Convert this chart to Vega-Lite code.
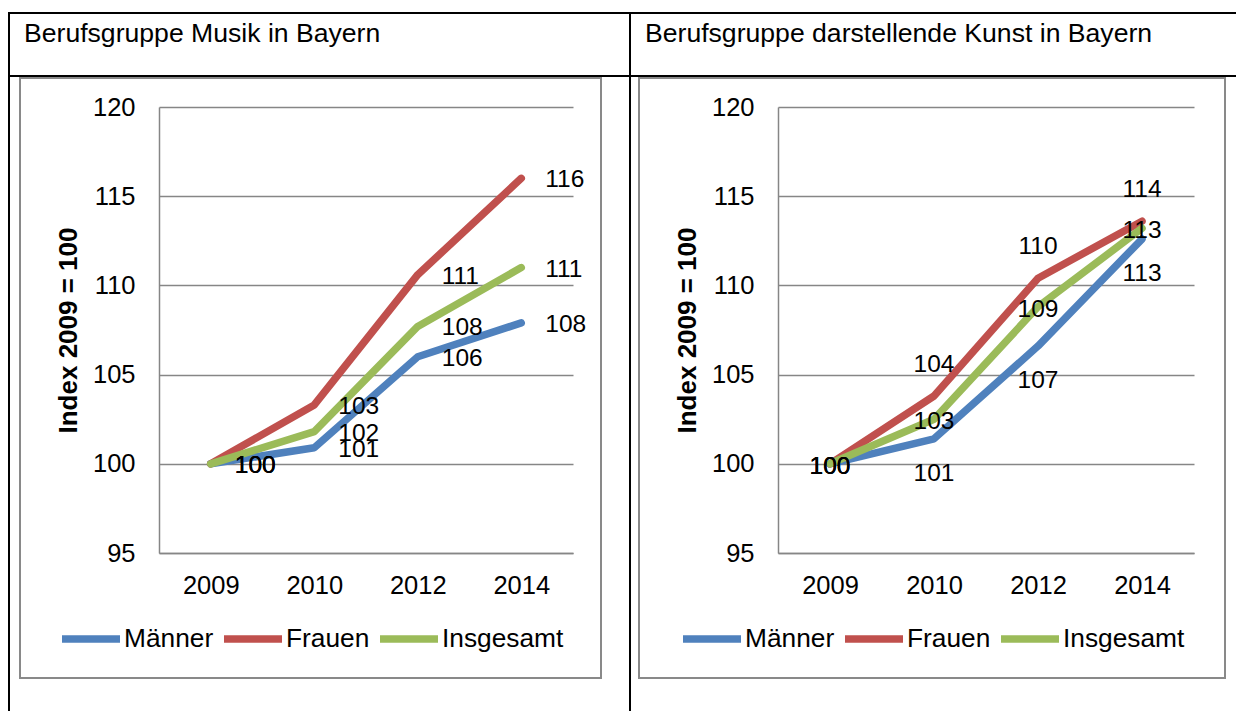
{
  "$schema": "https://vega.github.io/schema/vega-lite/v6.json",
  "padding": {"left": 8, "top": 12, "right": 0, "bottom": 0},
  "background": "white",
  "config": {
    "font": "Liberation Sans",
    "view": {"stroke": null},
    "concat": {"spacing": 0},
    "axis": {"labelColor": "black", "titleColor": "black", "labelFont": "Liberation Sans", "titleFont": "Liberation Sans"},
    "legend": {"labelFont": "Liberation Sans", "labelColor": "black"},
    "title": {"font": "Liberation Sans", "color": "black", "fontWeight": "normal"}
  },
  "datasets": {
    "musik": [
      {"year": "2009", "series": "Männer", "value": 100},
      {"year": "2010", "series": "Männer", "value": 100.9},
      {"year": "2012", "series": "Männer", "value": 106.0},
      {"year": "2014", "series": "Männer", "value": 107.9},
      {"year": "2009", "series": "Frauen", "value": 100},
      {"year": "2010", "series": "Frauen", "value": 103.3},
      {"year": "2012", "series": "Frauen", "value": 110.6},
      {"year": "2014", "series": "Frauen", "value": 116.0},
      {"year": "2009", "series": "Insgesamt", "value": 100},
      {"year": "2010", "series": "Insgesamt", "value": 101.8},
      {"year": "2012", "series": "Insgesamt", "value": 107.7},
      {"year": "2014", "series": "Insgesamt", "value": 111.0}
    ],
    "kunst": [
      {"year": "2009", "series": "Männer", "value": 100},
      {"year": "2010", "series": "Männer", "value": 101.4},
      {"year": "2012", "series": "Männer", "value": 106.6},
      {"year": "2014", "series": "Männer", "value": 112.6},
      {"year": "2009", "series": "Frauen", "value": 100},
      {"year": "2010", "series": "Frauen", "value": 103.8},
      {"year": "2012", "series": "Frauen", "value": 110.4},
      {"year": "2014", "series": "Frauen", "value": 113.6},
      {"year": "2009", "series": "Insgesamt", "value": 100},
      {"year": "2010", "series": "Insgesamt", "value": 102.5},
      {"year": "2012", "series": "Insgesamt", "value": 108.8},
      {"year": "2014", "series": "Insgesamt", "value": 113.2}
    ]
  },
  "spacing": 0,
  "resolve": {"scale": {"color": "independent"}, "legend": {"color": "independent"}},
  "vconcat": [
    {"width": 1240, "height": 2, "data": {"values": []}, "mark": "rule", "encoding": {}, "view": {"fill": "black", "stroke": null}},
    {
      "spacing": 0,
      "hconcat": [
        {"width": 2, "height": 61, "data": {"values": []}, "mark": "rule", "encoding": {}, "view": {"fill": "black", "stroke": null}},
        {"width": 619, "height": 61, "data": {"values": []}, "mark": "rule", "encoding": {},
         "title": {"text": "Berufsgruppe Musik in Bayern", "anchor": "start", "frame": "group", "orient": "top", "baseline": "top", "offset": -34, "dx": 14, "fontSize": 26.6}},
        {"width": 2, "height": 61, "data": {"values": []}, "mark": "rule", "encoding": {}, "view": {"fill": "black", "stroke": null}},
        {"width": 610, "height": 61, "data": {"values": []}, "mark": "rule", "encoding": {},
         "title": {"text": "Berufsgruppe darstellende Kunst in Bayern", "anchor": "start", "frame": "group", "orient": "top", "baseline": "top", "offset": -34, "dx": 14, "fontSize": 26.6}}
      ]
    },
    {"width": 1240, "height": 2, "data": {"values": []}, "mark": "rule", "encoding": {}, "view": {"fill": "black", "stroke": null}},
    {
      "spacing": 0,
      "resolve": {"scale": {"color": "independent"}, "legend": {"color": "independent"}},
      "hconcat": [
        {"width": 2, "height": 640, "data": {"values": []}, "mark": "rule", "encoding": {}, "view": {"fill": "black", "stroke": null}},
        {
          "spacing": 0,
          "resolve": {"scale": {"color": "independent"}, "legend": {"color": "independent"}},
          "hconcat": [
            {"width": 9, "height": 1, "data": {"values": []}, "mark": "rule", "encoding": {}},
            {
              "spacing": 0,
              "resolve": {"scale": {"color": "independent"}, "legend": {"color": "independent"}},
              "vconcat": [
                {"width": 583, "height": 2, "data": {"values": []}, "mark": "rule", "encoding": {}, "view": {"fill": "#898989", "stroke": null}},
                {
                  "spacing": 0,
                  "resolve": {"scale": {"color": "independent"}, "legend": {"color": "independent"}},
                  "hconcat": [
                    {"width": 2, "height": 598, "data": {"values": []}, "mark": "rule", "encoding": {}, "view": {"fill": "#898989", "stroke": null}},
                    {
                      "columns": 3, "bounds": "flush", "align": "each", "spacing": 0,
                      "resolve": {"scale": {"color": "independent"}, "legend": {"color": "independent"}},
                      "concat": [
                        {"width": 138, "height": 28, "data": {"values": []}, "mark": "rule", "encoding": {}},
                        {"width": 1, "height": 1, "data": {"values": []}, "mark": "rule", "encoding": {}},
                        {"width": 27, "height": 1, "data": {"values": []}, "mark": "rule", "encoding": {}},
                        {"width": 1, "height": 1, "data": {"values": []}, "mark": "rule", "encoding": {}},
                        {
                          "width": 414, "height": 446,
                          "data": {"name": "musik"},
                          "encoding": {
                            "x": {"field": "year", "type": "ordinal", "scale": {"type": "point", "padding": 0.5},
                                  "axis": {"title": null, "labelAngle": 0, "ticks": false, "grid": false, "domainColor": "#868686", "domainWidth": 1.5, "labelFontSize": 25.5, "labelPadding": 20}},
                            "y": {"field": "value", "type": "quantitative", "scale": {"domain": [95, 120], "nice": false, "zero": false},
                                  "axis": {"values": [95, 100, 105, 110, 115, 120], "grid": true, "gridColor": "#868686", "gridWidth": 1.5, "domainColor": "#868686", "domainWidth": 1.5, "ticks": false, "labelFontSize": 25.5, "labelPadding": 24, "title": "Index 2009 = 100", "titleFontSize": 26, "titleFontWeight": "bold", "titlePadding": 11}},
                            "color": {"field": "series", "type": "nominal", "sort": null,
                                      "scale": {"domain": ["Männer", "Frauen", "Insgesamt"], "range": ["#4F81BD", "#C0504D", "#9BBB59"]},
                                      "legend": {"orient": "none", "legendX": -101, "legendY": 499, "direction": "horizontal", "title": null, "symbolType": "stroke", "symbolSize": 3364, "symbolStrokeWidth": 7.5, "labelFontSize": 26.3, "labelOffset": 0, "columnPadding": -5, "labelLimit": 300}}
                          },
                          "layer": [
                            {"mark": {"type": "line", "strokeWidth": 7.5, "strokeCap": "round", "strokeJoin": "round"}},
                            {"mark": {"type": "text", "align": "left", "baseline": "middle", "dx": 24, "dy": 2, "fontSize": 24.5},
                             "encoding": {"text": {"field": "value", "type": "quantitative", "format": ".0f"}, "color": {"value": "black"}}}
                          ]
                        },
                        {"width": 1, "height": 1, "data": {"values": []}, "mark": "rule", "encoding": {}},
                        {"width": 1, "height": 124, "data": {"values": []}, "mark": "rule", "encoding": {}},
                        {"width": 1, "height": 1, "data": {"values": []}, "mark": "rule", "encoding": {}},
                        {"width": 1, "height": 1, "data": {"values": []}, "mark": "rule", "encoding": {}}
                      ]
                    },
                    {"width": 2, "height": 598, "data": {"values": []}, "mark": "rule", "encoding": {}, "view": {"fill": "#898989", "stroke": null}}
                  ]
                },
                {"width": 583, "height": 2, "data": {"values": []}, "mark": "rule", "encoding": {}, "view": {"fill": "#898989", "stroke": null}}
              ]
            },
            {"width": 27, "height": 1, "data": {"values": []}, "mark": "rule", "encoding": {}}
          ]
        },
        {"width": 2, "height": 640, "data": {"values": []}, "mark": "rule", "encoding": {}, "view": {"fill": "black", "stroke": null}},
        {
          "spacing": 0,
          "resolve": {"scale": {"color": "independent"}, "legend": {"color": "independent"}},
          "hconcat": [
            {"width": 7, "height": 1, "data": {"values": []}, "mark": "rule", "encoding": {}},
            {
              "spacing": 0,
              "resolve": {"scale": {"color": "independent"}, "legend": {"color": "independent"}},
              "vconcat": [
                {"width": 588, "height": 2, "data": {"values": []}, "mark": "rule", "encoding": {}, "view": {"fill": "#898989", "stroke": null}},
                {
                  "spacing": 0,
                  "resolve": {"scale": {"color": "independent"}, "legend": {"color": "independent"}},
                  "hconcat": [
                    {"width": 2, "height": 598, "data": {"values": []}, "mark": "rule", "encoding": {}, "view": {"fill": "#898989", "stroke": null}},
                    {
                      "columns": 3, "bounds": "flush", "align": "each", "spacing": 0,
                      "resolve": {"scale": {"color": "independent"}, "legend": {"color": "independent"}},
                      "concat": [
                        {"width": 138, "height": 28, "data": {"values": []}, "mark": "rule", "encoding": {}},
                        {"width": 1, "height": 1, "data": {"values": []}, "mark": "rule", "encoding": {}},
                        {"width": 30, "height": 1, "data": {"values": []}, "mark": "rule", "encoding": {}},
                        {"width": 1, "height": 1, "data": {"values": []}, "mark": "rule", "encoding": {}},
                        {
                          "width": 416, "height": 446,
                          "data": {"name": "kunst"},
                          "encoding": {
                            "x": {"field": "year", "type": "ordinal", "scale": {"type": "point", "padding": 0.5},
                                  "axis": {"title": null, "labelAngle": 0, "ticks": false, "grid": false, "domainColor": "#868686", "domainWidth": 1.5, "labelFontSize": 25.5, "labelPadding": 20}},
                            "y": {"field": "value", "type": "quantitative", "scale": {"domain": [95, 120], "nice": false, "zero": false},
                                  "axis": {"values": [95, 100, 105, 110, 115, 120], "grid": true, "gridColor": "#868686", "gridWidth": 1.5, "domainColor": "#868686", "domainWidth": 1.5, "ticks": false, "labelFontSize": 25.5, "labelPadding": 24, "title": "Index 2009 = 100", "titleFontSize": 26, "titleFontWeight": "bold", "titlePadding": 11}},
                            "color": {"field": "series", "type": "nominal", "sort": null,
                                      "scale": {"domain": ["Männer", "Frauen", "Insgesamt"], "range": ["#4F81BD", "#C0504D", "#9BBB59"]},
                                      "legend": {"orient": "none", "legendX": -99, "legendY": 499, "direction": "horizontal", "title": null, "symbolType": "stroke", "symbolSize": 3364, "symbolStrokeWidth": 7.5, "labelFontSize": 26.3, "labelOffset": 0, "columnPadding": -5, "labelLimit": 300}}
                          },
                          "layer": [
                            {"mark": {"type": "line", "strokeWidth": 7.5, "strokeCap": "round", "strokeJoin": "round"}},
                            {"transform": [{"filter": "datum.year == '2009' || datum.series == 'Insgesamt'"}],
                             "mark": {"type": "text", "align": "center", "baseline": "middle", "dy": 3, "fontSize": 24.5},
                             "encoding": {"text": {"field": "value", "type": "quantitative", "format": ".0f"}, "color": {"value": "black"}}},
                            {"transform": [{"filter": "datum.year != '2009' && datum.series == 'Frauen'"}],
                             "mark": {"type": "text", "align": "center", "baseline": "middle", "dy": -31, "fontSize": 24.5},
                             "encoding": {"text": {"field": "value", "type": "quantitative", "format": ".0f"}, "color": {"value": "black"}}},
                            {"transform": [{"filter": "datum.year != '2009' && datum.series == 'Männer'"}],
                             "mark": {"type": "text", "align": "center", "baseline": "middle", "dy": 35, "fontSize": 24.5},
                             "encoding": {"text": {"field": "value", "type": "quantitative", "format": ".0f"}, "color": {"value": "black"}}}
                          ]
                        },
                        {"width": 1, "height": 1, "data": {"values": []}, "mark": "rule", "encoding": {}},
                        {"width": 1, "height": 124, "data": {"values": []}, "mark": "rule", "encoding": {}},
                        {"width": 1, "height": 1, "data": {"values": []}, "mark": "rule", "encoding": {}},
                        {"width": 1, "height": 1, "data": {"values": []}, "mark": "rule", "encoding": {}}
                      ]
                    },
                    {"width": 2, "height": 598, "data": {"values": []}, "mark": "rule", "encoding": {}, "view": {"fill": "#898989", "stroke": null}}
                  ]
                },
                {"width": 588, "height": 2, "data": {"values": []}, "mark": "rule", "encoding": {}, "view": {"fill": "#898989", "stroke": null}}
              ]
            }
          ]
        }
      ]
    }
  ]
}
